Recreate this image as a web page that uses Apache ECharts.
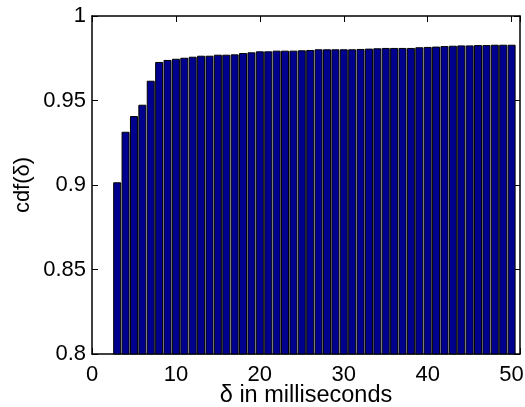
<!DOCTYPE html>
<html><head><meta charset="utf-8">
<script src="https://cdn.jsdelivr.net/npm/echarts@6/dist/echarts.min.js"></script>
<style>html,body{margin:0;padding:0;background:#fff}#c{width:525px;height:407px}</style>
</head><body><div id="c"></div>
<script>
const delays = [3,4,5,6,7,8,9,10,11,12,13,14,15,16,17,18,19,20,21,22,23,24,25,26,27,28,29,30,31,32,33,34,35,36,37,38,39,40,41,42,43,44,45,46,47,48,49,50];
const cdfValues = [0.9016,0.9315,0.9408,0.9475,0.9617,0.9728,0.9740,0.9747,0.9753,0.9759,0.9765,0.9765,0.9771,0.9771,0.9773,0.9781,0.9785,0.9791,0.9791,0.9795,0.9795,0.9795,0.9797,0.9799,0.9803,0.9803,0.9803,0.9803,0.9803,0.9805,0.9807,0.9809,0.9811,0.9811,0.9811,0.9811,0.9815,0.9817,0.9819,0.9822,0.9824,0.9826,0.9826,0.9828,0.9828,0.9830,0.9830,0.9830];
const xTicks = [0,10,20,30,40,50];
const yTicks = [0.8,0.85,0.9,0.95,1];

const font = 'Liberation Sans, Arial, sans-serif';
const chart = echarts.init(document.getElementById('c'), null, {renderer:'canvas'});
const fs = 22;
chart.setOption({
  animation:false,
  grid:{left:92,right:5,top:16,bottom:53,containLabel:false,outerBoundsMode:'none'},
  xAxis:[{
    type:'value',min:0,max:51,interval:10,
    name:'δ in milliseconds',nameLocation:'middle',nameGap:30,nameMoveOverlap:false,
    nameTextStyle:{fontFamily:font,fontSize:23.5,color:'#000'},
    axisLine:{show:true,onZero:false,lineStyle:{color:'#000',width:1.5}},
    axisTick:{show:true,inside:true,length:6,lineStyle:{color:'#000'}},
    axisLabel:{fontFamily:font,fontSize:fs,color:'#000',margin:10,
      formatter:v=>xTicks.indexOf(v)>=0?String(v):''},
    splitLine:{show:false}
  },{
    type:'value',min:0,max:51,interval:10,position:'top',
    axisLine:{show:true,onZero:false,lineStyle:{color:'#000',width:1.5}},
    axisTick:{show:true,inside:true,length:6,lineStyle:{color:'#000'}},
    axisLabel:{show:false},splitLine:{show:false}
  }],
  yAxis:[{
    type:'value',min:0.8,max:1,interval:0.05,
    name:'cdf(δ)',nameLocation:'middle',nameGap:58,nameRotate:90,nameMoveOverlap:false,
    nameTextStyle:{fontFamily:font,fontSize:fs,color:'#000'},
    axisLine:{show:true,onZero:false,lineStyle:{color:'#000',width:1.5}},
    axisTick:{show:true,inside:true,length:6,lineStyle:{color:'#000'}},
    axisLabel:{fontFamily:font,fontSize:fs,color:'#000',margin:6,
      formatter:v=>{const t=yTicks.find(y=>Math.abs(y-v)<1e-9);return t===undefined?'':String(t);}},
    splitLine:{show:false}
  },{
    type:'value',min:0.8,max:1,interval:0.05,position:'right',
    axisLine:{show:true,onZero:false,lineStyle:{color:'#000',width:1.5}},
    axisTick:{show:true,inside:true,length:6,lineStyle:{color:'#000'}},
    axisLabel:{show:false},splitLine:{show:false}
  }],
  series:[{
    type:'bar',
    xAxisIndex:0,yAxisIndex:0,
    data:delays.map((d,i)=>[d,cdfValues[i]]),
    barWidth:8,
    clip:true,
    itemStyle:{color:'#00008F',borderColor:'#000',borderWidth:1}
  }]
});
</script></body></html>
